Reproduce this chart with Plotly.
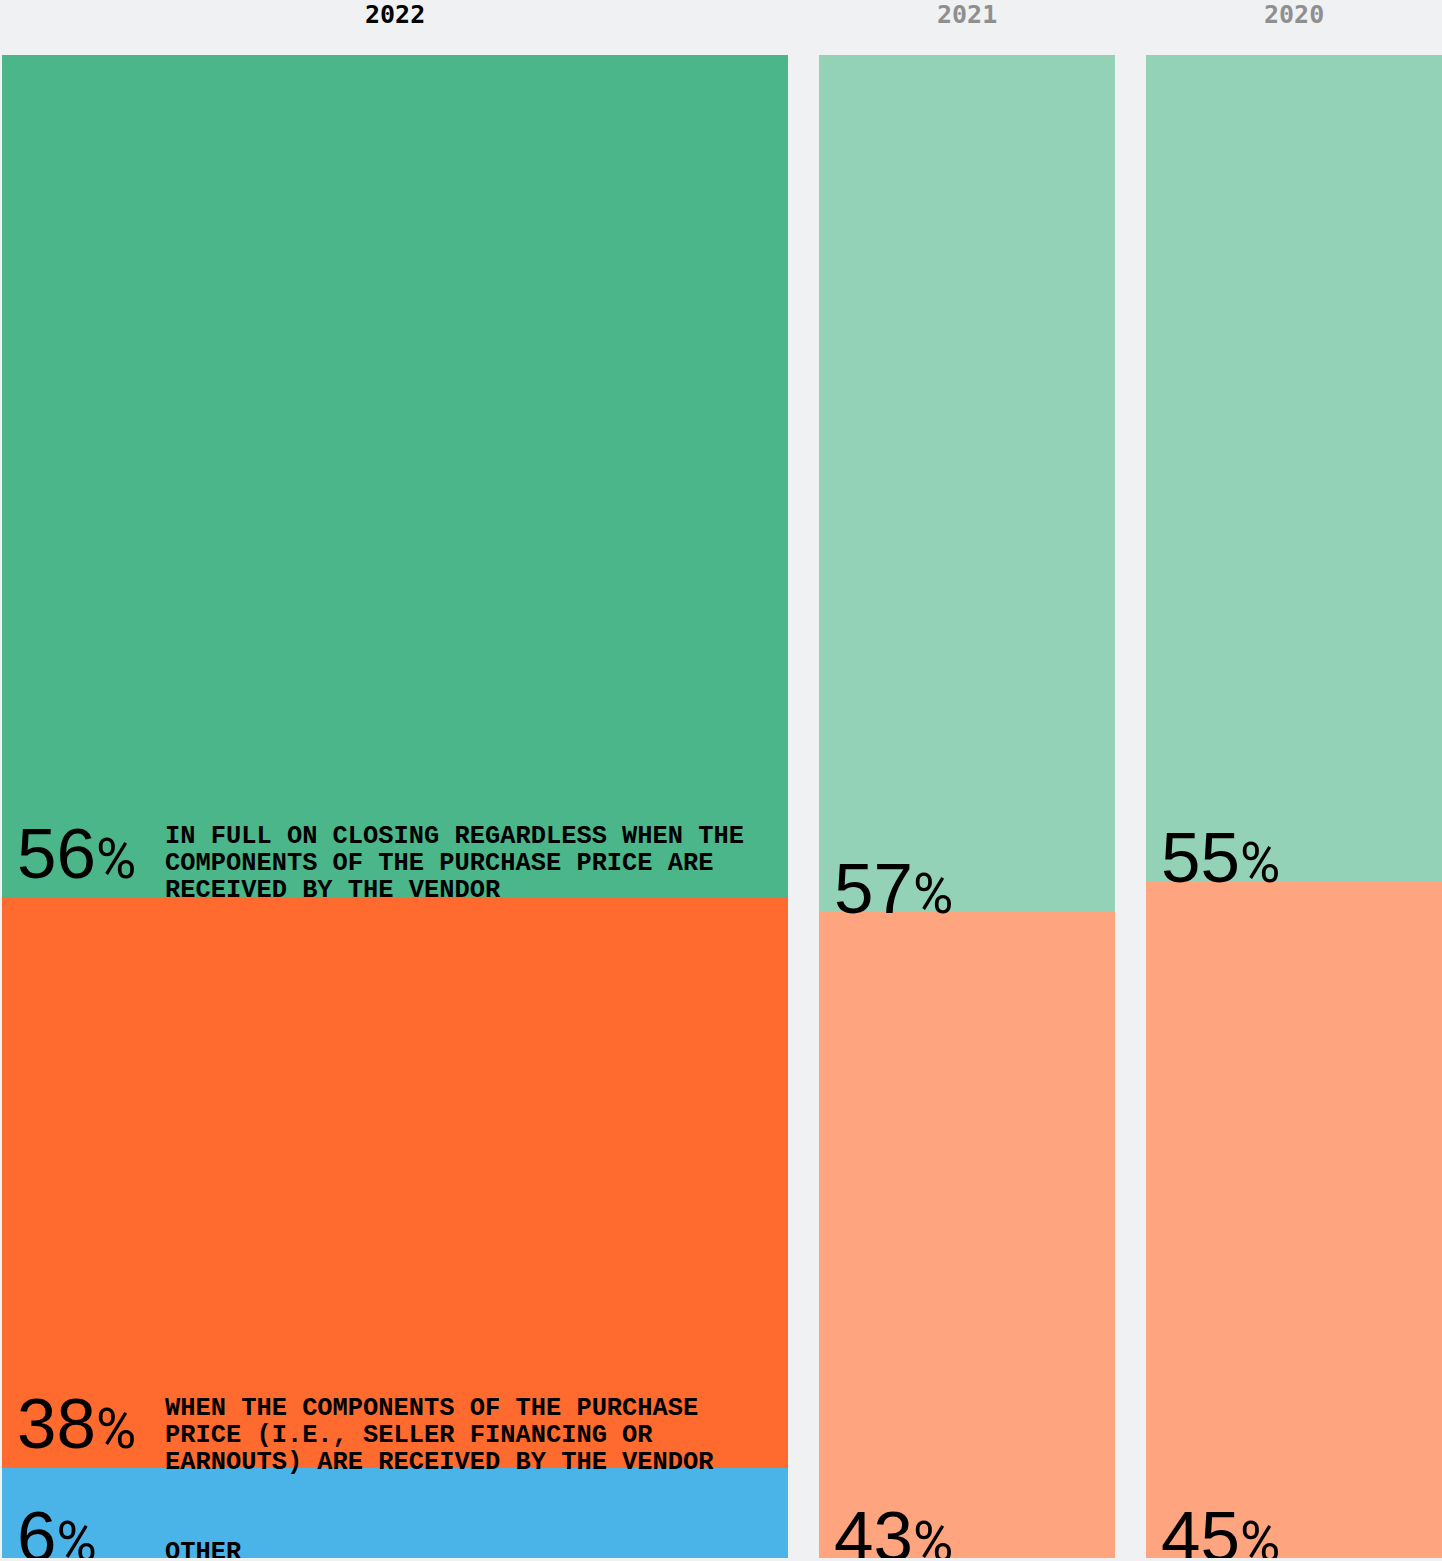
import plotly.graph_objects as go

# ---- data ----
years = ["2022", "2021", "2020"]
in_full = [56, 57, 55]
components = [38, 43, 45]
other = [6, 0, 0]
label_in_full = ["IN FULL ON CLOSING REGARDLESS WHEN THE",
                 "COMPONENTS OF THE PURCHASE PRICE ARE",
                 "RECEIVED BY THE VENDOR"]
label_components = ["WHEN THE COMPONENTS OF THE PURCHASE",
                    "PRICE (I.E., SELLER FINANCING OR",
                    "EARNOUTS) ARE RECEIVED BY THE VENDOR"]
label_other = ["OTHER"]

# ---- layout / style ----
W, H = 1442, 1558
BG = "#f0f1f3"
bar_widths = [786, 296, 296]
gap = 31
left0 = 2
lefts = []
pos = left0
for w in bar_widths:
    lefts.append(pos)
    pos += w + gap
centers = [l + w / 2 for l, w in zip(lefts, bar_widths)]

col_full = ["#4AB689", "#93D2B6", "#93D2B6"]
col_comp = ["#FF6A2E", "#FEA47E", "#FEA47E"]
col_other = ["#4AB3E8", "#4AB3E8", "#4AB3E8"]
year_colors = ["#000000", "#8f8f8f", "#8f8f8f"]

NUM_FONT = "Liberation Sans, Arial, sans-serif"
TXT_FONT = "Liberation Mono, DejaVu Sans Mono, monospace"

fig = go.Figure()
for vals, cols in [(other, col_other), (components, col_comp), (in_full, col_full)]:
    fig.add_trace(go.Bar(x=centers, y=vals, width=bar_widths,
                         marker=dict(color=cols, line=dict(width=0)),
                         hoverinfo="skip", showlegend=False))

ann = []
# year headers
for i, yr in enumerate(years):
    ann.append(dict(x=centers[i], y=1, xref="x", yref="paper", xanchor="center",
                    yanchor="bottom", yshift=24, showarrow=False,
                    text=f"<b>{yr}</b>",
                    font=dict(family="DejaVu Sans Mono, monospace", size=25,
                              color=year_colors[i])))

# segment bottoms (stack: other, components, in_full)
bottoms_other = [0] * 3
bottoms_comp = [o for o in other]
bottoms_full = [o + c for o, c in zip(other, components)]

def num_ann(i, bottom, v, d):
    # d: baseline pixel offset below segment bottom
    return dict(x=lefts[i], y=bottom, xref="x", yref="y", xanchor="left",
                yanchor="bottom", xshift=13, yshift=-d - 17, showarrow=False,
                text=f"{v}<span style='font-family:Roboto;font-size:55px'>%</span>",
                font=dict(family=NUM_FONT, size=71, color="#000"))

def text_ann(i, bottom, lines, d_last):
    out = []
    n = len(lines)
    for k, line in enumerate(lines):
        d = d_last - (n - 1 - k) * 27
        out.append(dict(x=lefts[i], y=bottom, xref="x", yref="y", xanchor="left",
                        yanchor="bottom", xshift=161, yshift=-d - 9.5,
                        showarrow=False, text=f"<b>{line}</b>",
                        font=dict(family=TXT_FONT, size=25.4, color="#000")))
    return out

num_offsets_full = [-19, 1, 0]
num_offsets_comp = [-20, 3, 3]
for i in range(3):
    if in_full[i] > 0:
        ann.append(num_ann(i, bottoms_full[i], in_full[i], num_offsets_full[i]))
    if components[i] > 0:
        ann.append(num_ann(i, bottoms_comp[i], components[i], num_offsets_comp[i]))
    if other[i] > 0:
        ann.append(num_ann(i, bottoms_other[i], other[i], 3))

ann += text_ann(0, bottoms_full[0], label_in_full, 1)
ann += text_ann(0, bottoms_comp[0], label_components, 2)
ann += text_ann(0, bottoms_other[0], label_other, 1)

fig.update_layout(
    width=W, height=H,
    margin=dict(l=0, r=0, t=55, b=0, pad=0),
    paper_bgcolor=BG, plot_bgcolor=BG,
    barmode="stack", bargap=0,
    xaxis=dict(range=[0, W], visible=False, fixedrange=True),
    yaxis=dict(range=[0, 100], visible=False, fixedrange=True),
    annotations=ann,
)

fig.write_html("out.html", config={"displayModeBar": False},
               post_script="document.body.style.margin='0';document.body.style.background='#f0f1f3';")
